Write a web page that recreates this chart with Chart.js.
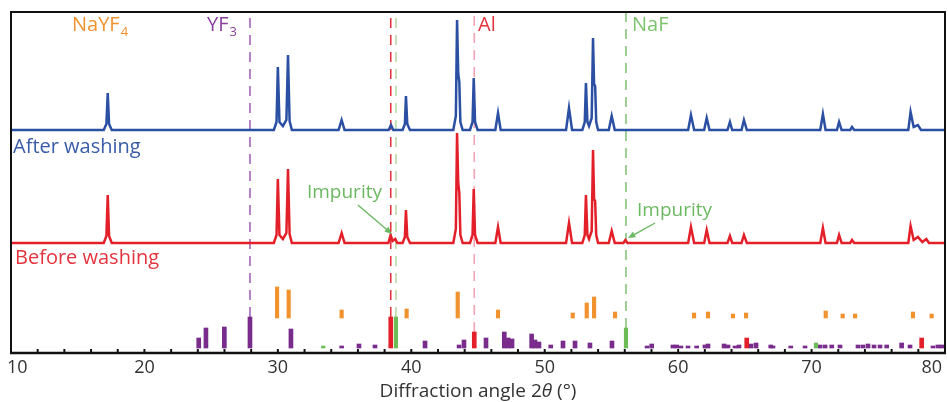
<!DOCTYPE html>
<html>
<head>
<meta charset="utf-8">
<script src="https://cdn.jsdelivr.net/npm/chart.js@4.4.1/dist/chart.umd.min.js"></script>
<style>
  html, body { margin: 0; padding: 0; background: #fff; }
  #wrap { width: 948px; height: 402px; }
</style>
</head>
<body>
<div id="wrap"><canvas id="xrdChart" width="948" height="402"></canvas></div>
<script>
// Measured patterns, [2θ, intensity above own baseline]
const afterWashing = [
    [10, 0],
    [16.95, 0], [17.15, 6], [17.25, 37], [17.35, 6], [17.55, 0],
    [29.7, 0], [29.9, 8], [30.0, 63], [30.12, 8], [30.38, 4], [30.64, 10], [30.76, 75], [30.88, 9], [31.05, 0],
    [34.55, 0], [34.78, 10], [35.0, 0],
    [38.3, 0], [38.48, 5], [38.65, 0],
    [39.35, 0], [39.52, 6], [39.6, 34], [39.7, 6], [39.9, 0],
    [43.15, 0], [43.34, 14], [43.43, 110], [43.52, 56], [43.6, 48], [43.68, 8], [43.85, 0],
    [44.4, 0], [44.59, 8], [44.68, 52], [44.78, 8], [44.97, 0],
    [46.3, 0], [46.5, 17], [46.7, 0],
    [51.6, 0], [51.82, 22], [52.05, 0],
    [52.82, 0], [53.0, 8], [53.09, 47], [53.2, 8], [53.32, 4], [53.52, 12], [53.62, 92], [53.7, 46], [53.78, 44], [53.86, 8], [54.0, 0],
    [54.8, 0], [55.02, 14], [55.25, 0],
    [60.75, 0], [60.96, 15], [61.2, 0],
    [61.95, 0], [62.14, 12], [62.35, 0],
    [63.7, 0], [63.88, 8], [64.05, 0],
    [64.75, 0], [64.93, 10], [65.15, 0],
    [70.65, 0], [70.85, 16], [71.05, 0],
    [71.9, 0], [72.06, 8], [72.25, 0],
    [72.9, 0], [73.03, 3], [73.2, 0],
    [77.25, 0], [77.42, 18], [77.65, 3], [77.97, 5], [78.2, 0],
    [80, 0]
];
const beforeWashing = [
    [10, 0],
    [16.95, 0], [17.15, 7], [17.25, 48], [17.35, 7], [17.55, 0],
    [29.7, 0], [29.9, 8], [30.0, 64], [30.12, 8], [30.38, 4], [30.64, 10], [30.76, 74], [30.88, 9], [31.05, 0],
    [34.55, 0], [34.78, 10], [35.0, 0],
    [38.28, 0], [38.45, 8], [38.6, 2], [38.8, 4], [38.95, 0],
    [39.35, 0], [39.52, 6], [39.6, 33], [39.7, 6], [39.9, 0],
    [43.15, 0], [43.34, 14], [43.43, 110], [43.52, 60], [43.6, 50], [43.68, 8], [43.85, 0],
    [44.4, 0], [44.59, 8], [44.68, 54], [44.78, 8], [44.97, 0],
    [46.3, 0], [46.5, 16], [46.7, 0],
    [51.6, 0], [51.82, 20], [52.05, 0],
    [52.82, 0], [53.0, 8], [53.09, 48], [53.2, 8], [53.32, 4], [53.52, 12], [53.62, 93], [53.7, 44], [53.78, 42], [53.86, 8], [54.0, 0],
    [54.8, 0], [55.02, 12], [55.25, 0],
    [55.9, 0], [56.05, 3], [56.2, 0],
    [60.75, 0], [60.96, 16], [61.2, 0],
    [61.95, 0], [62.14, 13], [62.35, 0],
    [63.7, 0], [63.88, 7], [64.05, 0],
    [64.75, 0], [64.93, 8], [65.15, 0],
    [70.65, 0], [70.85, 15], [71.05, 0],
    [71.9, 0], [72.06, 8], [72.25, 0],
    [72.9, 0], [73.03, 3], [73.2, 0],
    [77.25, 0], [77.42, 17], [77.65, 3], [77.97, 6], [78.3, 1], [78.6, 4], [78.8, 0],
    [80, 0]
];

// Reference patterns, [2θ, stick height]
const nayf4Ref = [
    [29.94, 31], [30.81, 28], [34.78, 8], [39.65, 9], [43.48, 26], [46.5, 8],
    [52.1, 5], [53.15, 15], [53.7, 21], [55.27, 6], [61.19, 5], [62.24, 6],
    [64.11, 4], [65.09, 5], [71.06, 7], [72.33, 4], [73.26, 4], [77.6, 6], [79.0, 4]
];
const yf3Ref = [
    [24.07, 10], [24.61, 20], [25.99, 21], [27.91, 31], [30.98, 19], [34.78, 2],
    [36.08, 4], [37.28, 3], [41.03, 7], [43.58, 3], [43.95, 8], [45.6, 10],
    [46.97, 16], [47.27, 10], [47.55, 9], [49.02, 14], [49.27, 8], [49.57, 6],
    [50.45, 3], [51.37, 7], [52.27, 7], [53.39, 5], [55.04, 7], [57.67, 2],
    [58.02, 4], [59.61, 3], [59.89, 3], [60.21, 2], [60.74, 2], [61.39, 2],
    [62.01, 3], [62.24, 4], [63.44, 4], [63.74, 3], [64.26, 2], [64.56, 3],
    [65.46, 4], [65.84, 5], [66.94, 3], [67.11, 2], [68.44, 2], [69.51, 2],
    [70.63, 3], [71.01, 3], [71.51, 3], [72.13, 3], [73.48, 3], [73.85, 3],
    [74.23, 4], [74.68, 3], [75.13, 3], [75.63, 3], [76.75, 5], [77.38, 3],
    [79.1, 2], [79.47, 3], [79.75, 3]
];
const alRef = [[38.46, 31], [44.72, 16], [65.14, 10], [78.25, 10]];
const nafRef = [[33.4, 2], [38.85, 31], [56.09, 20], [70.33, 5]];

// Phase marker lines (2θ)
const markerAngles = [27.91, 38.46, 38.85, 44.72, 56.09];

// Axis ticks
const xTickLabels = [10, 20, 30, 40, 50, 60, 70, 80];
const xMinorTicks = [12, 14, 16, 18, 22, 24, 26, 28, 32, 34, 36, 38, 42, 44, 46, 48,
    52, 54, 56, 58, 62, 64, 66, 68, 72, 74, 76, 78];

// vertical offsets of the stacked traces
const AFTER_BASE = 223;
const BEFORE_BASE = 110;
const NAYF4_BASE = 35;
const PHASE_BASE = 5;

const BLUE = '#2a4fa3';
const RED = '#e3202a';
const ORANGE = '#f0922e';
const PURPLE = '#7a2c8c';
const GREEN = '#6cbd55';
const FONT = '"Open Sans", "DejaVu Sans", sans-serif';

function traceData(points, base) {
    return points.map(p => ({ x: p[0], y: base + p[1] }));
}

function stickData(points, base) {
    return points.map(p => ({ x: p[0], y: [base, base + p[1]] }));
}

function stickSet(points, base, color, width) {
    return {
        type: 'bar',
        data: stickData(points, base),
        backgroundColor: color,
        borderWidth: 0,
        barThickness: width,
        grouped: false
    };
}

function markerSet(angle, bottom, color) {
    return {
        type: 'line',
        data: [{ x: angle, y: bottom }, { x: angle, y: 340 }],
        borderColor: color,
        borderWidth: 1.6,
        borderDash: [10, 7],
        pointRadius: 0
    };
}

const markerStyles = [
    { bottom: 36, color: '#a565b8' },
    { bottom: 36, color: '#e3343f' },
    { bottom: 36, color: '#b5dca8' },
    { bottom: 21, color: '#f2a3b6' },
    { bottom: 25, color: '#86c47a' }
];

function drawText(ctx, text, x, y, size, color, align, italic) {
    ctx.font = (italic ? 'italic ' : '') + size + 'px ' + FONT;
    ctx.fillStyle = color;
    ctx.textAlign = align || 'left';
    ctx.textBaseline = 'alphabetic';
    ctx.fillText(text, x, y);
    return ctx.measureText(text).width;
}

function drawArrow(ctx, x1, y1, x2, y2, color) {
    const ang = Math.atan2(y2 - y1, x2 - x1);
    ctx.strokeStyle = color;
    ctx.fillStyle = color;
    ctx.lineWidth = 1.4;
    ctx.beginPath();
    ctx.moveTo(x1, y1);
    ctx.lineTo(x2 - 5 * Math.cos(ang), y2 - 5 * Math.sin(ang));
    ctx.stroke();
    ctx.beginPath();
    ctx.moveTo(x2, y2);
    ctx.lineTo(x2 - 8 * Math.cos(ang - 0.4), y2 - 8 * Math.sin(ang - 0.4));
    ctx.lineTo(x2 - 8 * Math.cos(ang + 0.4), y2 - 8 * Math.sin(ang + 0.4));
    ctx.closePath();
    ctx.fill();
}

// frame, ticks, labels and annotations
const decorPlugin = {
    id: 'decor',
    afterDraw(chart) {
        const { ctx, chartArea: a } = chart;
        const xs = chart.scales.x;
        const ys = chart.scales.y;
        const px = v => xs.getPixelForValue(v);
        const py = v => ys.getPixelForValue(v);
        ctx.save();

        ctx.strokeStyle = '#111';
        ctx.lineWidth = 2;
        ctx.beginPath();
        ctx.moveTo(a.left, a.bottom);
        ctx.lineTo(a.left, a.top);
        ctx.lineTo(a.right, a.top);
        ctx.lineTo(a.right, a.bottom);
        ctx.stroke();
        ctx.lineWidth = 2.6;
        ctx.beginPath();
        ctx.moveTo(a.left - 1, a.bottom);
        ctx.lineTo(a.right + 1, a.bottom);
        ctx.stroke();

        ctx.lineWidth = 2;
        xMinorTicks.concat(xTickLabels).forEach(v => {
            ctx.beginPath();
            ctx.moveTo(px(v), a.bottom);
            ctx.lineTo(px(v), a.bottom - 4);
            ctx.stroke();
        });

        xTickLabels.forEach((v, i) => {
            let x = px(v);
            let align = 'center';
            if (i === 0) { x -= 4; align = 'left'; }
            if (i === xTickLabels.length - 1) { x -= 3; align = 'right'; }
            drawText(ctx, String(v), x, a.bottom + 20, 18, '#333', align);
        });

        // axis title with italic theta
        ctx.font = '19px ' + FONT;
        const t1 = 'Diffraction angle 2';
        const t3 = ' (°)';
        const w1 = ctx.measureText(t1).width;
        const w3 = ctx.measureText(t3).width;
        ctx.font = 'italic 19px ' + FONT;
        const w2 = ctx.measureText('θ').width;
        const tx = (a.left + a.right) / 2 - (w1 + w2 + w3) / 2;
        const ty = 397;
        drawText(ctx, t1, tx, ty, 19, '#333');
        drawText(ctx, 'θ', tx + w1, ty, 19, '#333', 'left', true);
        drawText(ctx, t3, tx + w1 + w2, ty, 19, '#333');

        // phase names
        let w = drawText(ctx, 'NaYF', px(14.57), 31, 20, ORANGE);
        drawText(ctx, '4', px(14.57) + w + 1, 36, 13, ORANGE);
        w = drawText(ctx, 'YF', px(24.69), 31, 20, '#8a3e9c');
        drawText(ctx, '3', px(24.69) + w + 1, 36, 13, '#8a3e9c');
        drawText(ctx, 'Al', px(45.0), 31, 20, '#e3343f');
        drawText(ctx, 'NaF', px(56.54), 31, 20, '#7cc46c');

        // trace names
        drawText(ctx, 'After washing', a.left + 2, py(AFTER_BASE - 23), 20, '#3a5ba8');
        drawText(ctx, 'Before washing', a.left + 4, py(BEFORE_BASE - 21), 20, '#e3343f');

        // impurity notes
        drawText(ctx, 'Impurity', px(32.18), py(BEFORE_BASE + 45), 19, '#6cb862');
        drawArrow(ctx, px(36.0), py(BEFORE_BASE + 38), px(38.55), py(BEFORE_BASE + 9), '#6cb862');
        drawText(ctx, 'Impurity', px(56.92), py(BEFORE_BASE + 27), 19, '#6cb862');
        drawArrow(ctx, px(58.27), py(BEFORE_BASE + 20), px(56.24), py(BEFORE_BASE + 5), '#6cb862');

        ctx.restore();
    }
};

const datasets = [
    {
        type: 'line',
        data: traceData(afterWashing, AFTER_BASE),
        borderColor: BLUE,
        borderWidth: 2.5,
        pointRadius: 0,
        tension: 0
    },
    {
        type: 'line',
        data: traceData(beforeWashing, BEFORE_BASE),
        borderColor: RED,
        borderWidth: 2.5,
        pointRadius: 0,
        tension: 0
    },
    stickSet(nayf4Ref, NAYF4_BASE, ORANGE, 3.5),
    stickSet(alRef, PHASE_BASE, '#e3202a', 4),
    stickSet(nafRef, PHASE_BASE, GREEN, 3.5),
    stickSet(yf3Ref, PHASE_BASE, PURPLE, 4)
];
markerAngles.forEach((ang, i) => {
    datasets.push(markerSet(ang, markerStyles[i].bottom, markerStyles[i].color));
});

const ctx = document.getElementById('xrdChart').getContext('2d');
new Chart(ctx, {
    type: 'line',
    data: { datasets: datasets },
    options: {
        responsive: false,
        animation: false,
        layout: { padding: { left: 11, right: 3, top: 12, bottom: 49 } },
        scales: {
            x: { type: 'linear', min: 10, max: 80, offset: false, display: false },
            y: { type: 'linear', min: 0, max: 341, display: false }
        },
        plugins: {
            legend: { display: false },
            tooltip: { enabled: false }
        }
    },
    plugins: [decorPlugin]
});
</script>
</body>
</html>
